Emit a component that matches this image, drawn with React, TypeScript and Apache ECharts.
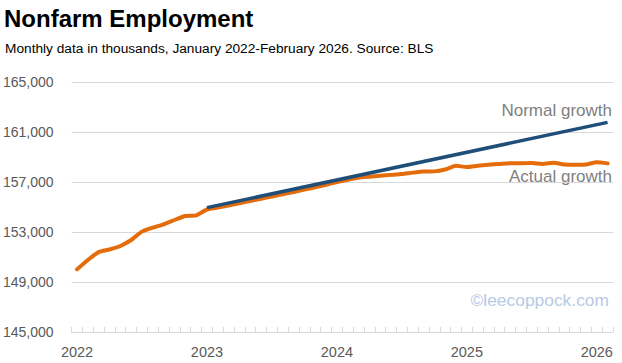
import React, { useEffect, useRef } from "react";
import * as echarts from "echarts";

const months = [
  "2022-01","2022-02","2022-03","2022-04","2022-05","2022-06","2022-07","2022-08","2022-09","2022-10","2022-11","2022-12",
  "2023-01","2023-02","2023-03","2023-04","2023-05","2023-06","2023-07","2023-08","2023-09","2023-10","2023-11","2023-12",
  "2024-01","2024-02","2024-03","2024-04","2024-05","2024-06","2024-07","2024-08","2024-09","2024-10","2024-11","2024-12",
  "2025-01","2025-02","2025-03","2025-04","2025-05","2025-06","2025-07","2025-08","2025-09","2025-10","2025-11","2025-12",
  "2026-01","2026-02",
];

const actualGrowth = [
  150010, 150760, 151390, 151600, 151880, 152360, 153030, 153350, 153610, 153960, 154280, 154330,
  154800, 154960, 155120, 155300, 155480, 155660, 155840, 156020, 156200, 156390, 156580, 156780,
  157000, 157180, 157330, 157420, 157500, 157570, 157640, 157750, 157840, 157850, 158000, 158300,
  158200, 158300, 158380, 158440, 158500, 158500, 158520, 158450, 158540, 158400, 158380, 158400,
  158580, 158490,
];

// Straight trend line: endpoints only (Jan 2023 and Feb 2026), nulls connected
const normalGrowth: (number | null)[] = months.map(() => null);
normalGrowth[12] = 154950;
normalGrowth[49] = 161770;

const yMin = 145000;
const yMax = 165000;
const yStep = 4000;

const titleText = "Nonfarm Employment";
const subtitleText = "Monthly data in thousands, January 2022-February 2026. Source: BLS";
const normalLabel = "Normal growth";
const actualLabel = "Actual growth";
const watermark = "\u00A9leecoppock.com";

const FONT = "'Liberation Sans', Arial, sans-serif";

export default function App() {
  const ref = useRef<HTMLDivElement>(null);
  useEffect(() => {
    document.body.style.margin = "0";
    if (!ref.current) return;
    const chart = echarts.init(ref.current, undefined, { renderer: "svg" });
    chart.setOption({
      animation: false,
      backgroundColor: "#ffffff",
      textStyle: { fontFamily: FONT },
      grid: { left: 71, right: 9, top: 82, bottom: 31, containLabel: false },
      xAxis: {
        type: "category",
        data: months,
        boundaryGap: true,
        axisLine: { show: true, lineStyle: { color: "#d9d9d9", width: 1 } },
        axisTick: {
          show: true,
          inside: true,
          length: 5,
          interval: 0,
          lineStyle: { color: "#d9d9d9" },
        },
        axisLabel: {
          interval: (index: number) => index % 12 === 0,
          formatter: (v: string) => v.slice(0, 4),
          color: "#595959",
          fontSize: 14.5,
          fontFamily: FONT,
          margin: 12,
        },
        splitLine: { show: false },
      },
      yAxis: {
        type: "value",
        min: yMin,
        max: yMax,
        interval: yStep,
        axisLine: { show: false },
        axisTick: { show: false },
        axisLabel: {
          color: "#595959",
          fontSize: 14,
          fontFamily: FONT,
          margin: 18,
          formatter: (v: number) => v.toLocaleString("en-US"),
        },
        splitLine: { lineStyle: { color: "#d9d9d9", width: 1 } },
      },
      series: [
        {
          name: "Actual growth",
          type: "line",
          data: actualGrowth,
          showSymbol: false,
          symbol: "none",
          smooth: 0.2,
          lineStyle: { color: "#E46C0A", width: 4, cap: "round", join: "round" },
          z: 2,
        },
        {
          name: "Normal growth",
          type: "line",
          data: normalGrowth,
          connectNulls: true,
          showSymbol: false,
          symbol: "none",
          lineStyle: { color: "#1F4E79", width: 3.5 },
          z: 3,
        },
      ],
      graphic: [
        {
          type: "text",
          left: 4,
          top: 6,
          style: {
            text: titleText,
            fontFamily: FONT,
            fontWeight: "bold",
            fontSize: 24,
            fill: "#000000",
          },
        },
        {
          type: "text",
          left: 5,
          top: 41,
          style: {
            text: subtitleText,
            fontFamily: FONT,
            fontSize: 13.7,
            fill: "#000000",
          },
        },
        {
          type: "text",
          x: 612,
          y: 110,
          style: {
            text: normalLabel,
            fontFamily: FONT,
            fontSize: 17,
            fill: "#808080",
            align: "right",
            verticalAlign: "middle",
          },
        },
        {
          type: "text",
          x: 612,
          y: 176.5,
          style: {
            text: actualLabel,
            fontFamily: FONT,
            fontSize: 17,
            fill: "#808080",
            align: "right",
            verticalAlign: "middle",
          },
        },
        {
          type: "text",
          x: 609,
          y: 300,
          style: {
            text: watermark,
            fontFamily: FONT,
            fontSize: 17.4,
            fill: "#b8c9e5",
            align: "right",
            verticalAlign: "middle",
          },
        },
      ],
    });
    return () => chart.dispose();
  }, []);
  return <div ref={ref} style={{ width: 622, height: 363 }} />;
}
